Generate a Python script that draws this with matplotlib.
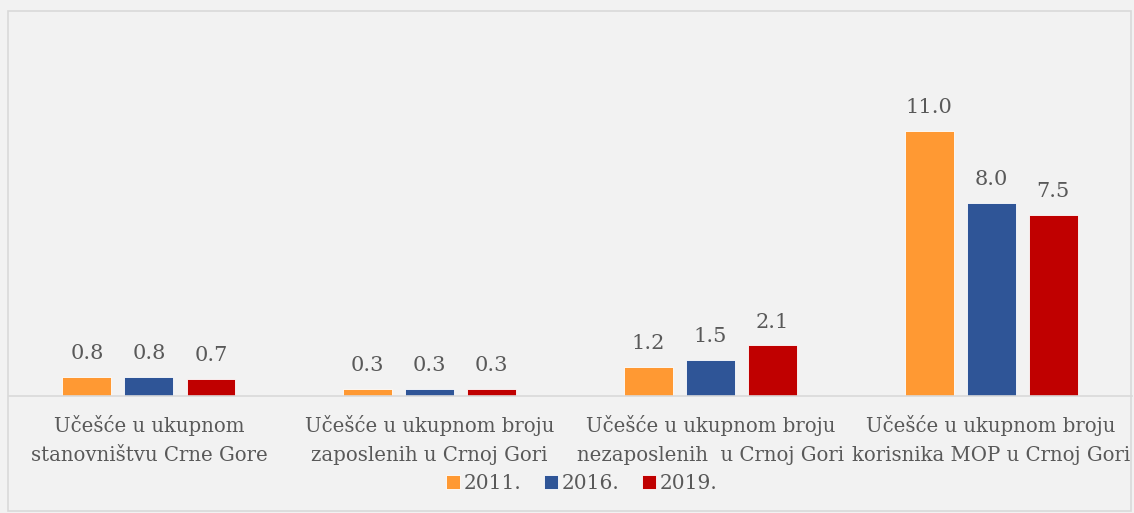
import numpy as np
import matplotlib.pyplot as plt
from matplotlib.patches import Rectangle

# Podaci
kategorije = ['Učešće u ukupnom\nstanovništvu Crne Gore',
              'Učešće u ukupnom broju\nzaposlenih u Crnoj Gori',
              'Učešće u ukupnom broju\nnezaposlenih  u Crnoj Gori',
              'Učešće u ukupnom broju\nkorisnika MOP u Crnoj Gori']
godine = ['2011.', '2016.', '2019.']
v2011 = [0.8, 0.3, 1.2, 11.0]
v2016 = [0.8, 0.3, 1.5, 8.0]
v2019 = [0.7, 0.3, 2.1, 7.5]

boje = ['#FF9933', '#2F5597', '#C00000']
siva = '#595959'
plt.rcParams['font.family'] = ['DejaVu Serif']

fig = plt.figure(figsize=(11.34, 5.13), dpi=100, facecolor='#F2F2F2')
fig.patches.append(Rectangle((0.007, 0.004), 0.99, 0.975, transform=fig.transFigure,
                             fill=False, edgecolor='#D9D9D9', linewidth=1.2))
ax = fig.add_axes([0.0075, 0.228, 0.9903, 0.728])
ax.set_facecolor('#F2F2F2')

x = np.arange(len(kategorije))
sirina = 0.174
pomak = 0.221
for i, (vrijednosti, boja, god) in enumerate(zip([v2011, v2016, v2019], boje, godine)):
    stubovi = ax.bar(x + (i - 1) * pomak, vrijednosti, sirina, color=boja, label=god,
                     edgecolor='white', linewidth=0.6)
    for s, v in zip(stubovi, vrijednosti):
        ax.annotate(f'{v:.1f}', (s.get_x() + s.get_width() / 2, v),
                    xytext=(0, 10), textcoords='offset points', ha='center', va='bottom',
                    fontsize=15, color=siva)

ax.set_xlim(-0.5, 3.5)
ax.set_ylim(0, 15.5)
ax.set_yticks([])
ax.set_xticks(x)
ax.set_xticklabels(kategorije, fontsize=14.2, color=siva, linespacing=1.65)
ax.tick_params(axis='x', length=0, pad=14)
for strana in ['top', 'left', 'right']:
    ax.spines[strana].set_visible(False)
ax.spines['bottom'].set_color('#D9D9D9')
ax.spines['bottom'].set_linewidth(1.2)

leg = fig.legend(loc='center', bbox_to_anchor=(0.513, 0.058), ncol=3, frameon=False,
                 fontsize=14.5, handlelength=0.7, handleheight=0.7, handletextpad=0.2,
                 columnspacing=1.1)
for t in leg.get_texts():
    t.set_color(siva)

fig.savefig('out.png', dpi=100, facecolor=fig.get_facecolor())
